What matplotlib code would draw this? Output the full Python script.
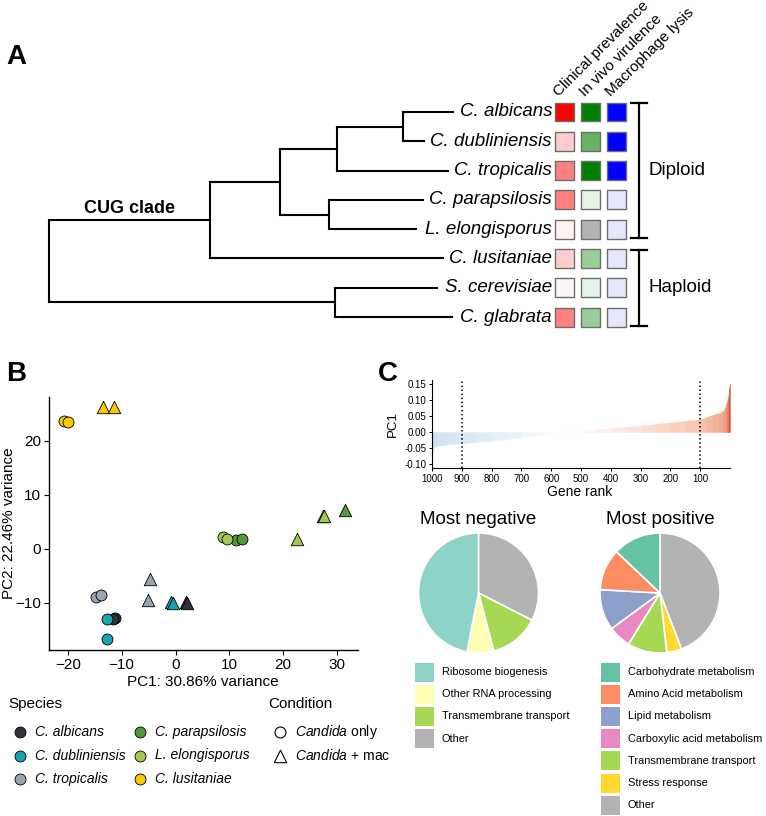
import numpy as np
import matplotlib.pyplot as plt
from matplotlib.colors import LinearSegmentedColormap, TwoSlopeNorm, to_rgb
from matplotlib.patches import Rectangle

plt.rcParams['font.family'] = ['Liberation Sans', 'DejaVu Sans']
plt.rcParams['mathtext.fontset'] = 'custom'
plt.rcParams['mathtext.it'] = 'Liberation Sans:italic'
plt.rcParams['mathtext.rm'] = 'Liberation Sans'

W, H = 766, 816

# ---------------- data: panel A (tree + traits) ----------------
tips = ['C. albicans', 'C. dubliniensis', 'C. tropicalis', 'C. parapsilosis',
        'L. elongisporus', 'C. lusitaniae', 'S. cerevisiae', 'C. glabrata']
tip_depth = [404, 375, 399, 374, 367, 394, 388, 403]
# internal nodes: (name, children, depth), children listed before parents
nodes = [('AD', ['C. albicans', 'C. dubliniensis'], 354),
         ('ADT', ['AD', 'C. tropicalis'], 288),
         ('PE', ['C. parapsilosis', 'L. elongisporus'], 280),
         ('CTG', ['ADT', 'PE'], 231),
         ('CUG', ['CTG', 'C. lusitaniae'], 161),
         ('SC', ['S. cerevisiae', 'C. glabrata'], 286),
         ('root', ['CUG', 'SC'], 0)]
trait_names = ['Clinical prevalence', 'In vivo virulence', 'Macrophage lysis']
trait_base = ['#ff0000', '#008000', '#0000ff']
clinical = [1.0, 0.2, 0.5, 0.5, 0.05, 0.2, 0.05, 0.5]
virulence = [1.0, 0.6, 1.0, 0.1, np.nan, 0.4, 0.1, 0.4]
lysis = [1.0, 1.0, 1.0, 0.1, 0.1, 0.1, 0.1, 0.1]
ploidy = ['Diploid'] * 5 + ['Haploid'] * 3

# ---------------- data: panel B (PCA) ----------------
species = ['C. albicans', 'C. dubliniensis', 'C. tropicalis',
           'C. parapsilosis', 'L. elongisporus', 'C. lusitaniae']
species_colors = ['#2d3339', '#17a3b2', '#9aa5af', '#4f9a3a', '#a2c955', '#f6c900']
pt_species = ['C. albicans'] * 4 + ['C. dubliniensis'] * 4 + ['C. tropicalis'] * 4 + \
             ['C. parapsilosis'] * 4 + ['L. elongisporus'] * 4 + ['C. lusitaniae'] * 4
pt_cond = ['only', 'only', 'mac', 'mac'] * 6
pc1 = [-11.2, -11.6, 2.0, 2.2,
       -12.8, -12.8, -0.9, -0.4,
       -14.7, -13.8, -5.2, -4.8,
       11.3, 12.3, 27.4, 31.4,
       8.9, 9.6, 22.5, 27.5,
       -20.8, -19.9, -13.4, -11.5]
pc2 = [-12.8, -13.0, -9.9, -10.0,
       -13.0, -16.7, -9.8, -10.0,
       -8.9, -8.5, -9.4, -5.6,
       1.7, 1.8, 6.0, 7.2,
       2.2, 1.8, 1.8, 6.0,
       23.7, 23.5, 26.3, 26.2]

# ---------------- data: panel C ----------------
gene_rank = [1000, 997, 993, 980, 950, 900, 850, 800, 750, 700, 650, 600, 560,
             500, 450, 400, 350, 300, 250, 200, 150, 100, 80, 60, 40, 30, 22,
             16, 12, 8, 5, 3, 2, 1]
pc1_loading = [-0.075, -0.055, -0.046, -0.043, -0.039, -0.035, -0.031, -0.027,
               -0.022, -0.016, -0.010, -0.005, 0.000, 0.004, 0.008, 0.012, 0.016,
               0.020, 0.025, 0.030, 0.035, 0.040, 0.046, 0.053, 0.058, 0.062,
               0.068, 0.076, 0.088, 0.100, 0.115, 0.128, 0.138, 0.150]
rank_ticks = [1000, 900, 800, 700, 600, 500, 400, 300, 200, 100]

neg_cats = ['Ribosome biogenesis', 'Other RNA processing', 'Transmembrane transport', 'Other']
neg_vals = [46.9, 7.2, 13.4, 32.5]
neg_cols = ['#8dd3c7', '#ffffb3', '#a6d854', '#b3b3b3']
pos_cats = ['Carbohydrate metabolism', 'Amino Acid metabolism', 'Lipid metabolism',
            'Carboxylic acid metabolism', 'Transmembrane transport', 'Stress response', 'Other']
pos_vals = [12.9, 11.2, 11.0, 6.1, 10.6, 4.0, 44.2]
pos_cols = ['#66c2a5', '#fc8d62', '#8da0cb', '#e78ac3', '#a6d854', '#ffd92f', '#b3b3b3']


fig = plt.figure(figsize=(W / 100, H / 100), dpi=100)


def px(x0, y0, x1, y1):
    return fig.add_axes([x0 / W, 1 - y1 / H, (x1 - x0) / W, (y1 - y0) / H])


def shade(base, a):
    if np.isnan(a):
        return '#b3b3b3'
    return tuple(1 - a * (1 - c) for c in to_rgb(base))


# ================= panel A =================
row_top, row_bot = 97.35, 331.75
axT = px(0, row_top, 766, row_bot)
axT.set_xlim(-49, 717)
axT.set_ylim(7.5, -0.5)
axT.axis('off')

ypos = {t: i for i, t in enumerate(tips)}
xpos = dict(zip(tips, tip_depth))
for name, kids, depth in nodes:
    ypos[name] = np.mean([ypos[k] for k in kids])
    xpos[name] = depth
lk = dict(color='black', lw=1.5, solid_capstyle='projecting')
for name, kids, depth in nodes:
    ys = [ypos[k] for k in kids]
    axT.plot([depth, depth], [min(ys), max(ys)], **lk)
    for k in kids:
        axT.plot([depth, xpos[k]], [ypos[k], ypos[k]], **lk)
for t in tips:
    axT.text(503, ypos[t], t, ha='right', va='center', style='italic', fontsize=13.5)
axT.annotate('CUG clade', xy=(xpos['CUG'] / 2, ypos['CUG']), xytext=(0, 2),
             textcoords='offset points', ha='center', va='bottom',
             fontsize=13, fontweight='bold')

axH = px(551.5, row_top, 629.5, row_bot)
axH.set_xlim(-0.5, 2.5)
axH.set_ylim(7.5, -0.5)
axH.axis('off')
for c, (scores, base) in enumerate(zip([clinical, virulence, lysis], trait_base)):
    axH.scatter([c] * len(tips), range(len(tips)), marker='s', s=185,
                c=[shade(base, a) for a in scores], edgecolors='#6e6e6e', linewidths=1)
    axH.text(c - 0.22, -0.52, trait_names[c], rotation=45, rotation_mode='anchor',
             ha='left', va='baseline', fontsize=11)
for grp in ['Diploid', 'Haploid']:
    rows = [i for i, p in enumerate(ploidy) if p == grp]
    y0, y1 = min(rows) - 0.3, max(rows) + 0.3
    bk = dict(color='black', lw=1.6, clip_on=False)
    axH.plot([2.87, 2.87], [y0, y1], **bk)
    axH.plot([2.57, 3.17], [y0, y0], **bk)
    axH.plot([2.57, 3.17], [y1, y1], **bk)
    axH.text(3.22, np.mean(rows), grp, ha='left', va='center', fontsize=13.5)

# ================= panel B =================
axP = px(49, 397, 358, 650)
col_of = dict(zip(species, species_colors))
for sp, cond, x, y in zip(pt_species, pt_cond, pc1, pc2):
    axP.scatter(x, y, marker='o' if cond == 'only' else '^',
                s=62 if cond == 'only' else 80, color=col_of[sp],
                edgecolors='black', linewidths=0.6, zorder=3)
axP.set_xlim(-23.5, 33.9)
axP.set_ylim(-18.7, 28.1)
axP.set_xticks([-20, -10, 0, 10, 20, 30])
axP.set_yticks([-10, 0, 10, 20])
for s in ['top', 'right']:
    axP.spines[s].set_visible(False)
for s in ['left', 'bottom']:
    axP.spines[s].set_linewidth(1.0)
axP.tick_params(labelsize=11, length=3.5, width=0.8, pad=2)

# ================= panel C =================
axC = px(432, 380, 730, 468)
cmap = LinearSegmentedColormap.from_list(
    'pc', [(0.0, '#9fc4df'), (0.3, '#d5e5f1'), (0.5, '#ffffff'),
           (0.63, '#f6c6b0'), (0.75, '#ee9c7e'), (1.0, '#d24a2e')])
norm = TwoSlopeNorm(vmin=-0.1, vcenter=0, vmax=0.15)
for i in range(len(gene_rank) - 1):
    v = 0.5 * (pc1_loading[i] + pc1_loading[i + 1])
    col = cmap(norm(v))
    axC.fill_between(gene_rank[i:i + 2], 0, pc1_loading[i:i + 2],
                     color=col, lw=0.3, edgecolor=col)
axC.axvline(900, color='black', ls=':', lw=1.1)
axC.axvline(100, color='black', ls=':', lw=1.1)
axC.set_xlim(1000, 0)
axC.set_ylim(-0.1125, 0.1625)
axC.set_xticks(rank_ticks)
axC.set_yticks([-0.10, -0.05, 0.00, 0.05, 0.10, 0.15])
axC.set_yticklabels(['-0.10', '-0.05', '0.00', '0.05', '0.10', '0.15'])
for s in ['top', 'right']:
    axC.spines[s].set_visible(False)
axC.tick_params(labelsize=7, length=2.5, width=0.7, pad=1.5)

for cats, vals, cols, cx in [(neg_cats, neg_vals, neg_cols, 478.5),
                             (pos_cats, pos_vals, pos_cols, 660)]:
    axp = px(cx - 60, 533, cx + 60, 653)
    axp.pie(vals[::-1], colors=cols[::-1], startangle=90, counterclock=False,
            radius=1, wedgeprops=dict(edgecolor='white', linewidth=1.2))
    axp.set_xlim(-1, 1)
    axp.set_ylim(-1, 1)

# ================= overlay: letters, labels, legends =================
ov = fig.add_axes([0, 0, 1, 1])
ov.set_xlim(0, W)
ov.set_ylim(H, 0)
ov.axis('off')

for lab, x, y in [('A', 16, 57), ('B', 16, 374), ('C', 388, 374)]:
    ov.text(x, y, lab, ha='center', va='center', fontsize=20, fontweight='bold')

ov.text(203, 682, 'PC1: 30.86% variance', ha='center', va='center', fontsize=11)
ov.text(9, 523, 'PC2: 22.46% variance', ha='center', va='center', fontsize=11,
        rotation=90)
ov.text(393, 424, 'PC1', ha='center', va='center', fontsize=9.5, rotation=90)
ov.text(580, 492, 'Gene rank', ha='center', va='center', fontsize=10)

# species legend
ov.text(8, 704, 'Species', ha='left', va='center', fontsize=11)
for i, (sp, col) in enumerate(zip(species, species_colors)):
    cx = 20 + 120 * (i // 3)
    cy = 732 + 23.5 * (i % 3)
    ov.scatter(cx, cy, marker='o', s=62, color=col, edgecolors='black', linewidths=0.6)
    ov.text(cx + 15, cy, sp, ha='left', va='center', style='italic', fontsize=10)
ov.text(268, 704, 'Condition', ha='left', va='center', fontsize=11)
for i, (mk, lab) in enumerate([('o', r'$\it{Candida}$ only'), ('^', r'$\it{Candida}$ + mac')]):
    cy = 732 + 23.5 * i
    ov.scatter(280, cy, marker=mk, s=62 if mk == 'o' else 80, facecolors='white',
               edgecolors='black', linewidths=0.8)
    ov.text(295, cy, lab, ha='left', va='center', fontsize=10)

# pie titles and legends
ov.text(478.5, 520, 'Most negative', ha='center', va='center', fontsize=13.5)
ov.text(660, 520, 'Most positive', ha='center', va='center', fontsize=13.5)
for cats, cols, x0 in [(neg_cats, neg_cols, 415), (pos_cats, pos_cols, 601)]:
    for i, (cat, col) in enumerate(zip(cats, cols)):
        cy = 672 + 22.2 * i
        ov.add_patch(Rectangle((x0, cy - 9.5), 19, 19, color=col, lw=0))
        ov.text(x0 + 27, cy, cat, ha='left', va='center', fontsize=7.9)

fig.savefig('out.png', dpi=100)
